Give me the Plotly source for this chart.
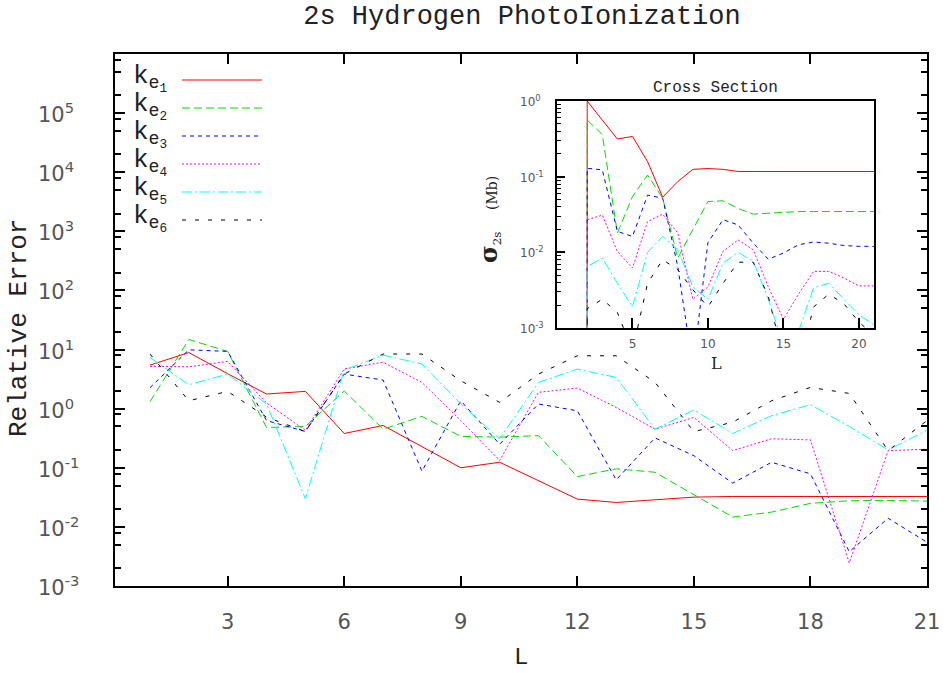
import plotly.graph_objects as go

# ---------------- data ----------------
L = list(range(1, 22))

ke1 = [5.46, 8.9, 3.9, 1.77, 1.96, 0.38, 0.52, 0.23, 0.10, 0.124, 0.061, 0.0295, 0.0259,
       0.029, 0.0319, 0.0327, 0.0327, 0.0327, 0.0327, 0.0327, 0.0327]
ke2 = [1.31, 14.8, 9.3, 0.48, 0.50, 1.99, 0.45, 0.74, 0.34, 0.33, 0.35, 0.071, 0.096,
       0.084, 0.035, 0.0147, 0.0178, 0.025, 0.0277, 0.028, 0.0273]
ke3 = [2.26, 9.9, 9.3, 0.63, 0.41, 3.85, 3.05, 0.0875, 1.36, 0.25, 1.2, 0.92, 0.0625,
       0.32, 0.16, 0.055, 0.124, 0.079, 0.0038, 0.014, 0.0055]
ke4 = [5.2, 5.1, 6.3, 1.25, 0.43, 4.7, 6.1, 2.78, 0.63, 0.133, 1.89, 2.23, 1.05,
       0.45, 0.71, 0.195, 0.31, 0.296, 0.00245, 0.195, 0.206]
ke5 = [7.35, 2.54, 3.85, 1.2, 0.03, 4.5, 8.05, 5.7, 1.2, 0.31, 2.78, 4.67, 3.38,
       0.45, 0.95, 0.38, 0.76, 1.17, 0.5, 0.2, 0.43]
ke6 = [8.4, 1.36, 1.96, 0.72, 0.41, 3.85, 8.4, 8.4, 2.97, 1.28, 3.85, 7.85, 7.85,
       2.78, 0.41, 0.59, 1.36, 2.29, 1.81, 0.195, 0.63]

# inset: cross section (Mb) vs L
inset_L = [2] + list(range(2, 22))
cs1 = [1e-5, 1.0, 0.56, 0.315, 0.34, 0.158, 0.0535, 0.086, 0.125, 0.128, 0.125, 0.117,
       0.117, 0.117, 0.117, 0.117, 0.117, 0.117, 0.117, 0.117, 0.117]
cs2 = [1e-5, 0.56, 0.36, 0.018, 0.0546, 0.105, 0.052, 0.0084, 0.02, 0.047, 0.048, 0.038,
       0.032, 0.033, 0.034, 0.0346, 0.0346, 0.0346, 0.0346, 0.0346, 0.0346]
cs3 = [1e-5, 0.129, 0.123, 0.0189, 0.0162, 0.057, 0.052, 0.0065, 0.0003, 0.0135, 0.027,
       0.023, 0.0132, 0.0081, 0.0098, 0.0126, 0.0137, 0.0132, 0.0123, 0.012, 0.012]
cs4 = [1e-5, 0.027, 0.031, 0.0103, 0.0062, 0.0255, 0.032, 0.018, 0.0024, 0.0035, 0.0103,
       0.0146, 0.0108, 0.0035, 0.0013, 0.0028, 0.0056, 0.0056, 0.0046, 0.0036, 0.0036]
cs5 = [1e-5, 0.0065, 0.0084, 0.0039, 0.0019, 0.010, 0.0162, 0.0108, 0.0035, 0.0024, 0.0072,
       0.010, 0.0076, 0.0024, 0.0006, 0.0009, 0.0034, 0.0039, 0.0024, 0.0015, 0.0011]
cs6 = [1e-5, 0.0018, 0.0024, 0.0016, 0.0005, 0.0039, 0.008, 0.0059, 0.0032, 0.0019, 0.0039,
       0.0074, 0.0074, 0.0026, 0.0004, 0.0003, 0.0019, 0.0028, 0.0021, 0.0012, 0.0008]

names = ["k<sub>e<sub>1</sub></sub>", "k<sub>e<sub>2</sub></sub>", "k<sub>e<sub>3</sub></sub>",
         "k<sub>e<sub>4</sub></sub>", "k<sub>e<sub>5</sub></sub>", "k<sub>e<sub>6</sub></sub>"]
main_series = [ke1, ke2, ke3, ke4, ke5, ke6]
inset_series = [cs1, cs2, cs3, cs4, cs5, cs6]

main_xticks = [3, 6, 9, 12, 15, 18, 21]
main_yexp = [-3, -2, -1, 0, 1, 2, 3, 4, 5]
main_ytext = ["10<sup>-3</sup>", "10<sup>-2</sup>", "10<sup>-1</sup>", "10<sup>0</sup>",
              "10<sup>1</sup>", "10<sup>2</sup>", "10<sup>3</sup>", "10<sup>4</sup>", "10<sup>5</sup>"]
inset_xticks = [5, 10, 15, 20]
inset_yexp = [-3, -2, -1, 0]
inset_ytext = ["10<sup>-3</sup>", "10<sup>-2</sup>", "10<sup>-1</sup>", "10<sup>0</sup>"]

# ---------------- styles ----------------
colors = ["#ff0000", "#00dd00", "#0000ff", "#ff00ff", "#00ffff", "#000000"]
dashes = ["solid", "8px,4px", "4px,4px", "2px,2px", "10px,3px,2px,3px", "4px,9px"]

fig = go.Figure()
for s, c, d, n in zip(main_series, colors, dashes, names):
    fig.add_trace(go.Scatter(x=L, y=s, mode="lines", name=n,
                             line=dict(color=c, width=1, dash=d),
                             xaxis="x", yaxis="y", showlegend=False))
for s, c, d, n in zip(inset_series, colors, dashes, names):
    fig.add_trace(go.Scatter(x=inset_L, y=s, mode="lines", name=n,
                             line=dict(color=c, width=1, dash=d),
                             xaxis="x2", yaxis="y2", showlegend=False))

W, H = 952, 673
ml, mr, mt, mb = 115, 25, 54, 87
pw, ph = W - ml - mr, H - mt - mb


def px(xp):
    return (xp - ml) / pw


def py(yp):
    return (H - mb - yp) / ph


tickcol = "#555555"
tickfont = dict(family="DejaVu Sans", size=21, color=tickcol)
mono = "Liberation Mono"

minor_main = []
for e in range(-3, 6):
    for m in (2, 5, 8):
        minor_main.append(m * 10 ** e)
minor_inset = []
for e in range(-3, 0):
    for m in range(2, 10):
        minor_inset.append(m * 10 ** e)

fig.update_layout(
    width=W, height=H,
    margin=dict(l=ml, r=mr, t=mt, b=mb, autoexpand=False),
    plot_bgcolor="white", paper_bgcolor="white",
    showlegend=False,
    title=dict(text="2s Hydrogen PhotoIonization", x=px(522), xref="paper", xanchor="center",
               y=1 - 15 / H, yref="container", yanchor="middle",
               font=dict(family=mono, size=27, color="#222222")),
    xaxis=dict(range=[0.1, 21], tickmode="array", tickvals=main_xticks,
               ticks="inside", ticklen=10, tickwidth=2, tickcolor="black",
               showline=True, linecolor="black", linewidth=2, mirror="ticks",
               showgrid=False, zeroline=False, tickfont=tickfont, ticklabelstandoff=16),
    yaxis=dict(type="log", range=[-3, 6], tickmode="array",
               tickvals=[10 ** e for e in main_yexp], showticklabels=False,
               ticks="inside", ticklen=10, tickwidth=2, tickcolor="black",
               minor=dict(tickmode="array", tickvals=minor_main, ticks="inside", ticklen=6,
                          tickwidth=2, tickcolor="black"),
               showline=True, linecolor="black", linewidth=2, mirror="ticks",
               showgrid=False, zeroline=False),
    xaxis2=dict(domain=[px(557), px(874)], anchor="y2", range=[0, 21], tickmode="array",
                tickvals=inset_xticks, ticks="inside", ticklen=10, tickwidth=2,
                tickcolor="black", showline=True, linecolor="black", linewidth=2, mirror=True,
                showgrid=False, zeroline=False,
                tickfont=dict(family="DejaVu Sans", size=12, color=tickcol),
                ticklabelstandoff=4),
    yaxis2=dict(domain=[py(328), py(101)], anchor="x2", type="log", range=[-3, 0],
                tickmode="array", tickvals=[10 ** e for e in inset_yexp], showticklabels=False,
                ticks="inside", ticklen=8, tickwidth=2, tickcolor="black",
                minor=dict(tickmode="array", tickvals=minor_inset, ticks="inside", ticklen=4,
                           tickwidth=1, tickcolor="black"),
                showline=True, linecolor="black", linewidth=2, mirror=True,
                showgrid=False, zeroline=False),
)

ann = []
# y tick labels, left-aligned as in the original
for e, t in zip(main_yexp, main_ytext):
    ann.append(dict(text=t, x=px(36), xref="paper", y=e, yref="y", showarrow=False,
                    xanchor="left", yanchor="middle", font=tickfont))
for e, t in zip(inset_yexp, inset_ytext):
    ann.append(dict(text=t, x=px(518), xref="paper", y=e, yref="y2", showarrow=False,
                    xanchor="left", yanchor="middle",
                    font=dict(family="DejaVu Sans", size=12, color=tickcol)))
# axis titles
ann.append(dict(text="Relative Error", x=px(19), y=py(328), xref="paper", yref="paper",
                textangle=-90, showarrow=False, xanchor="center", yanchor="middle",
                font=dict(family=mono, size=26, color="#222222")))
ann.append(dict(text="L", x=px(521), y=py(657), xref="paper", yref="paper",
                showarrow=False, xanchor="center", yanchor="middle",
                font=dict(family=mono, size=24, color="#222222")))
# inset labels
ann.append(dict(text="Cross Section", x=px(715), y=py(88), xref="paper", yref="paper",
                showarrow=False, xanchor="center", yanchor="middle",
                font=dict(family=mono, size=16, color="#222222")))
ann.append(dict(text="L", x=px(716), y=py(364), xref="paper", yref="paper",
                showarrow=False, xanchor="center", yanchor="middle",
                font=dict(family="DejaVu Serif", size=16, color="#222222")))
ann.append(dict(text="<span style='font-size:24px'><b>σ</b></span><sub>2s</sub>"
                     "    <span style='font-size:14px'>(Mb)</span>",
                x=px(489), y=py(220), xref="paper",
                yref="paper", textangle=-90, showarrow=False, xanchor="center",
                yanchor="middle", font=dict(family="DejaVu Serif", size=17, color="#222222")))

shapes = []
leg_y = [80, 108, 136, 164, 192, 220]
for n, c, d, yy in zip(names, colors, dashes, leg_y):
    ann.append(dict(text=n, x=px(131), y=py(yy - 2), xref="paper", yref="paper",
                    showarrow=False, xanchor="left", yanchor="middle",
                    font=dict(family=mono, size=26, color="#222222")))
    shapes.append(dict(type="line", xref="paper", yref="paper", x0=px(182), x1=px(262),
                       y0=py(yy), y1=py(yy), line=dict(color=c, width=1, dash=d)))

fig.update_layout(annotations=ann, shapes=shapes)
fig.write_html("out.html", config={"displayModeBar": False},
               post_script="document.body.style.margin='0px';document.body.style.overflow='hidden';")
